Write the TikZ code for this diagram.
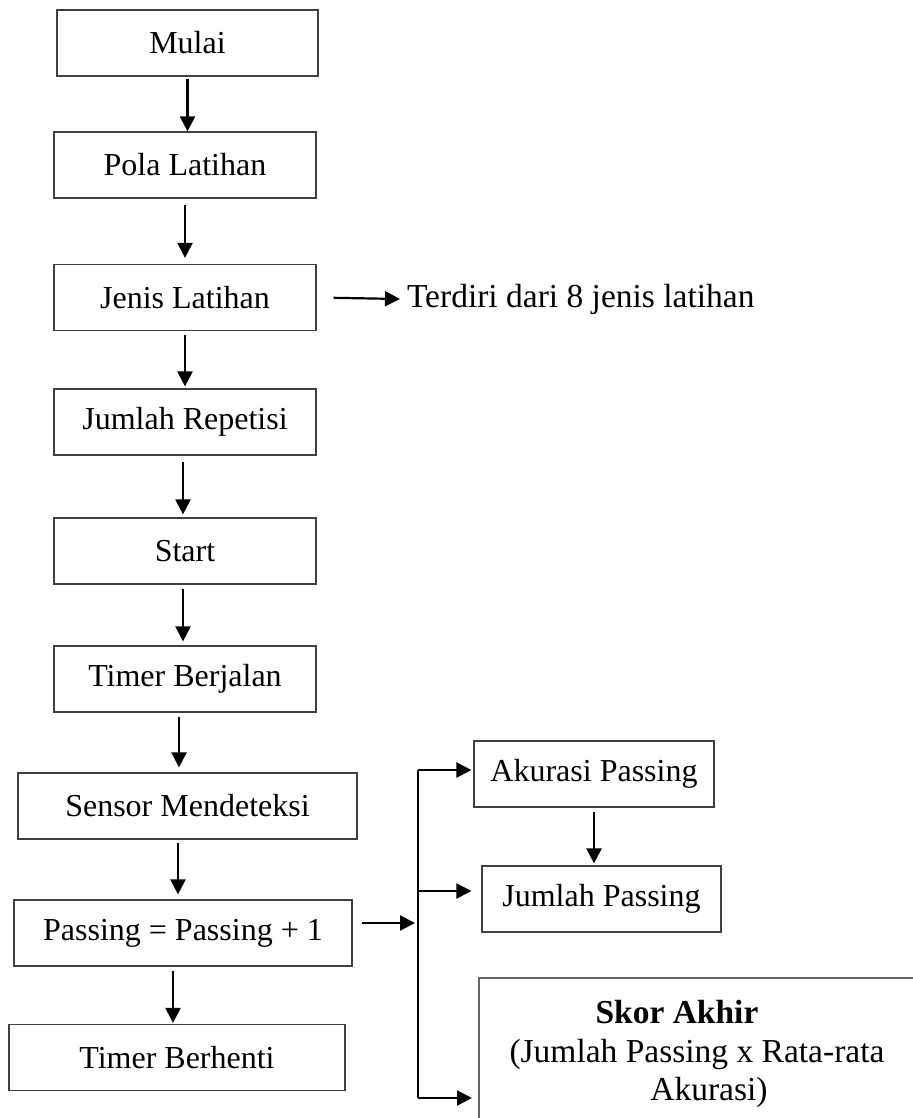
\documentclass[tikz,border=0pt]{standalone}
\usepackage{fontspec}
\setmainfont{Liberation Serif}
\usetikzlibrary{arrows.meta}
\begin{document}
\begin{tikzpicture}[x=0.5pt,y=-0.5pt,
  box/.style={draw=black!75, line width=0.6pt, minimum height=33pt, inner sep=0pt, font=\fontsize{16}{19}\selectfont},
  arr/.style={line width=1.1pt, -{Triangle[length=7.5pt,width=7.5pt]}},
  side/.style={font=\fontsize{16.75}{19.25}\selectfont}]
\useasboundingbox (0,0) rectangle (913,1118);
\node[box, minimum width=130.5pt] (mulai) at (187.5,43) {Mulai};
\node[box, minimum width=131pt] (pola) at (185,165) {Pola Latihan};
\node[box, minimum width=131pt] (jenis) at (185,297.5) {Jenis Latihan};
\node[box, minimum width=131pt] (repetisi) at (185,422) {Jumlah Repetisi};
\node[box, minimum width=131pt] (start) at (185,551) {Start};
\node[box, minimum width=131pt] (berjalan) at (185,679) {Timer Berjalan};
\node[box, minimum width=169.5pt] (sensor) at (187.5,806) {Sensor Mendeteksi};
\node[box, minimum width=169pt] (passing) at (183,933) {Passing = Passing + 1};
\node[box, minimum width=168pt] (berhenti) at (177,1057.5) {Timer Berhenti};
\node[box, minimum width=120pt] (akurasi) at (594,774) {Akurasi Passing};
\node[box, minimum width=119.5pt] (jumlah) at (601.5,899) {Jumlah Passing};
\node[side, anchor=west] (info) at (400,299) {Terdiri dari 8 jenis latihan};
\node[side, align=center] (skor) at (697,1054) {\textbf{Skor Akhir}\hspace*{20pt}\\(Jumlah Passing x Rata-rata\\\hspace*{12pt}Akurasi)};
\coordinate (bus top) at (418,770);
\coordinate (bus mid) at (418,891);
\coordinate (bus bot) at (418,1098);
\coordinate (skor nw) at (479,978);
% alur utama
\draw[arr, shorten <=1pt] (mulai.south) -- (mulai.south |- pola.north);
\draw[arr, shorten <=3pt, shorten >=3pt] (pola.south) -- (pola.south |- jenis.north);
\draw[arr, shorten <=2pt, shorten >=1pt] (jenis.south) -- (jenis.south |- repetisi.north);
\draw[arr, shorten <=3pt, shorten >=1.5pt] ([xshift=-1pt]repetisi.south) -- ([xshift=-1pt]repetisi.south |- start.north);
\draw[arr, shorten <=2pt, shorten >=2pt] ([xshift=-1pt]start.south) -- ([xshift=-1pt]start.south |- berjalan.north);
\draw[arr, shorten <=2pt, shorten >=2.5pt] ([xshift=-3pt]berjalan.south) -- ([xshift=-3pt]berjalan.south |- sensor.north);
\draw[arr, shorten <=1.5pt, shorten >=2.5pt] ([xshift=-4.75pt]sensor.south) -- ([xshift=-4.75pt]sensor.south |- passing.north);
\draw[arr, shorten <=2pt, shorten >=0.5pt] ([xshift=-5pt]passing.south) -- ([xshift=-5pt]passing.south |- berhenti.north);
\draw[arr, shorten <=8.5pt] (jenis.east) -- (info.west);
% cabang hasil
\draw[arr, shorten <=4.5pt, shorten >=1.5pt] ([yshift=5pt]passing.east) -- ([yshift=5pt]passing.east -| bus top);
\draw[line width=1.1pt] (bus top) -- (bus bot);
\draw[arr, shorten >=1pt] (bus top) -- (bus top -| akurasi.west);
\draw[arr, shorten >=1pt] (bus mid) -- (bus mid -| akurasi.west);
\draw[arr, shorten >=3.5pt] (bus bot) -- (bus bot -| skor nw);
\draw[arr, shorten <=2pt, shorten >=1pt] (akurasi.south) -- (akurasi.south |- jumlah.north);
\draw[draw=black!60, line width=0.8pt] (skor nw |- 0,1118) -- (skor nw) -- (913,978);
\end{tikzpicture}
\end{document}
